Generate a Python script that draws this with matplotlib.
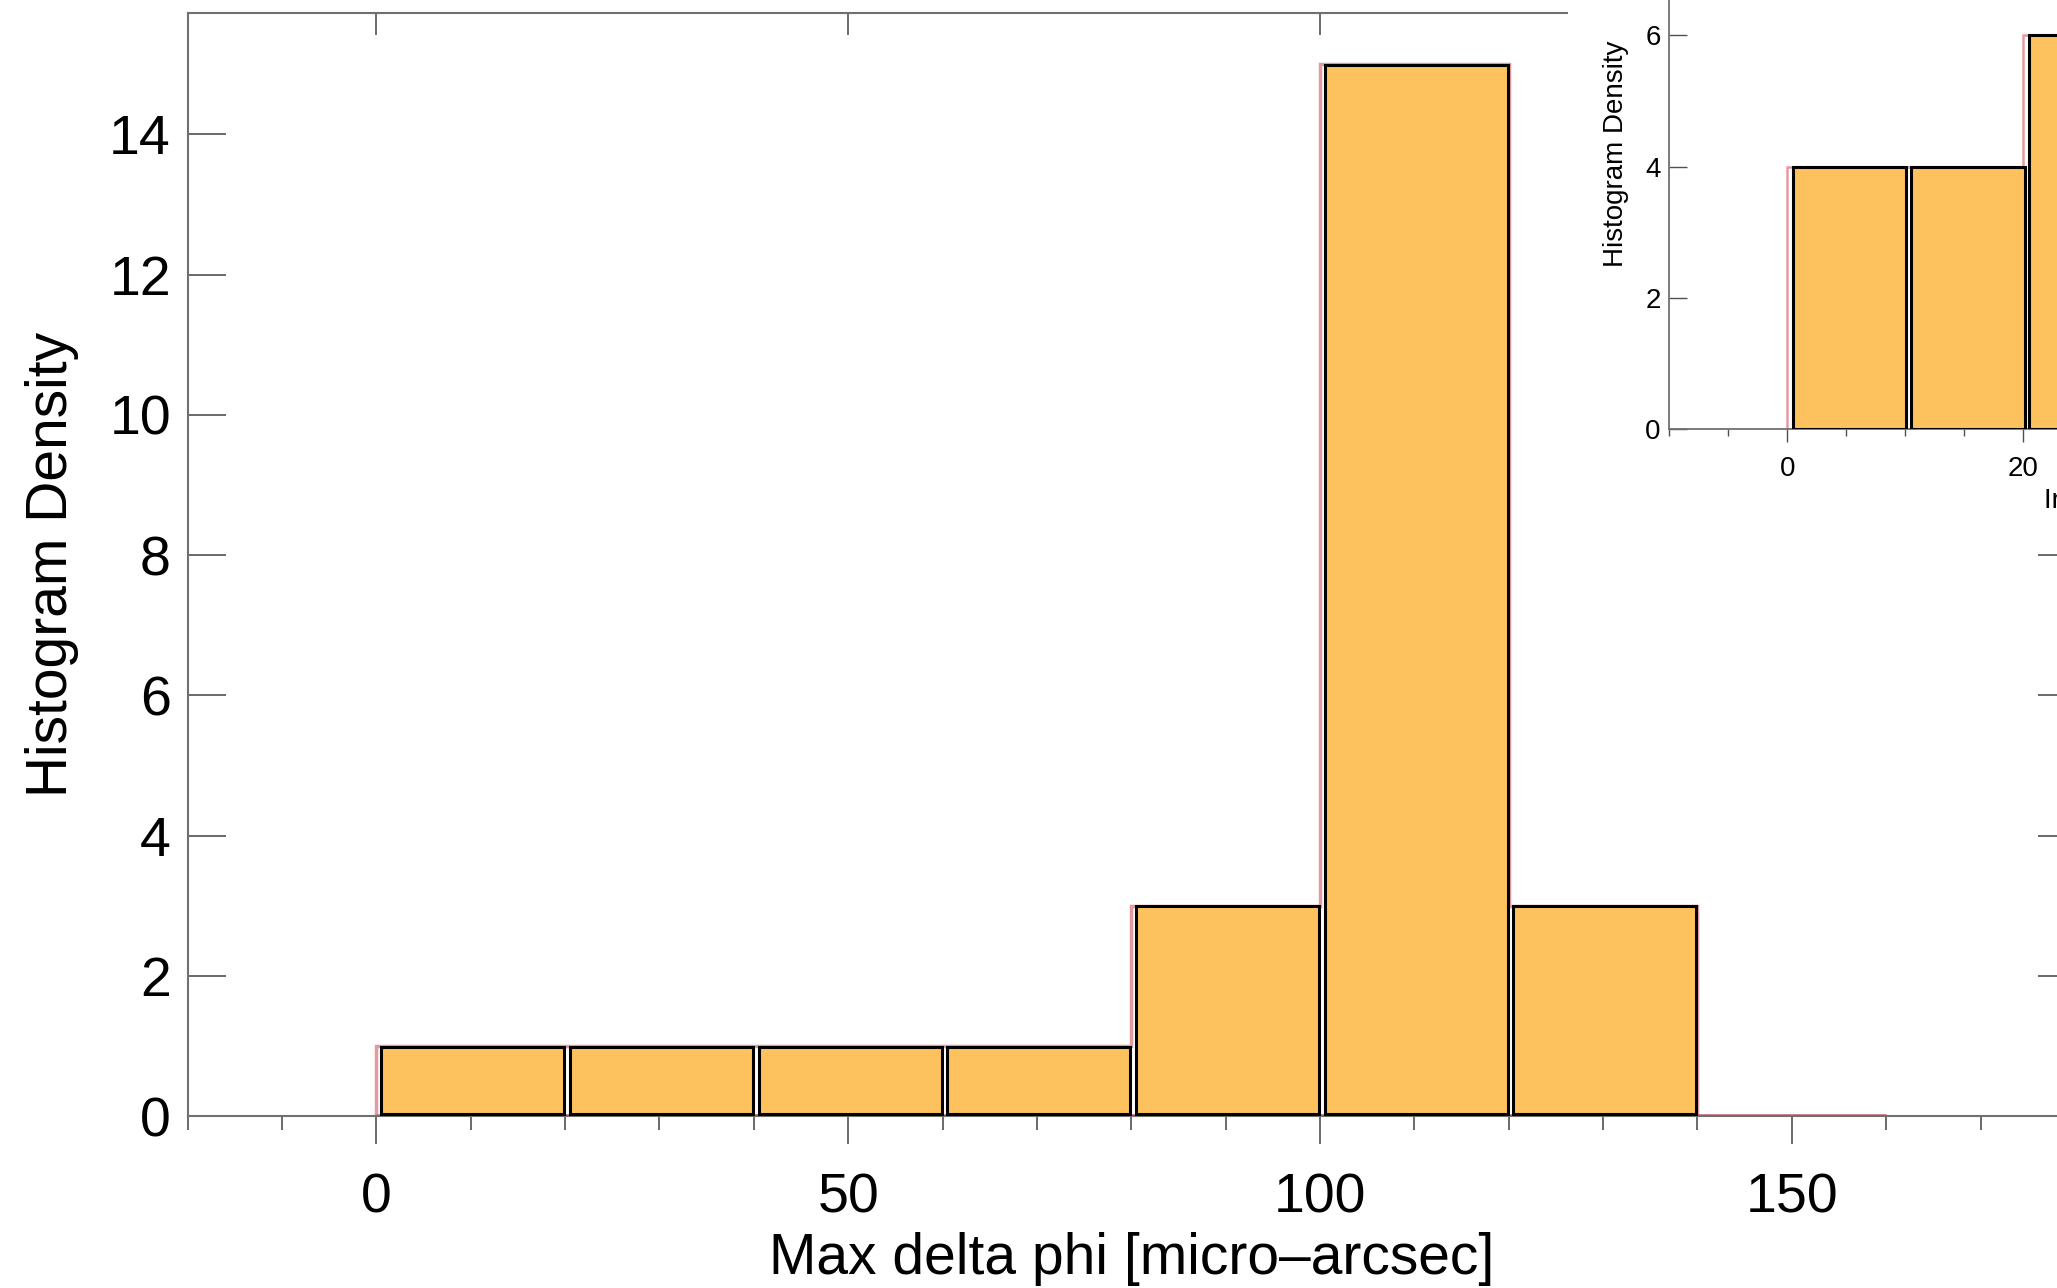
import numpy as np
import matplotlib
matplotlib.use("Agg")
import matplotlib.pyplot as plt
from matplotlib.ticker import MultipleLocator
from matplotlib.patches import Rectangle

plt.rcParams['font.family'] = ['Liberation Sans', 'DejaVu Sans']

# main histogram
main_edges = np.array([0, 20, 40, 60, 80, 100, 120, 140, 160])
main_counts = np.array([1, 1, 1, 1, 3, 15, 3, 0])

# inset histogram (partly cut off by the figure edge)
inset_edges = np.array([0, 10, 20, 30])
inset_counts = np.array([4, 4, 6])

bar_color = '#FDC25E'
pink = '#E59AA0'
spine_col = '#707070'
tick_col = '#505050'

fig = plt.figure(figsize=(20.57, 12.88), dpi=100)

# main axes runs past the right edge of the figure on purpose
ax = fig.add_axes([0.0912, 0.1335, 0.9175, 0.8564])
ax.set_zorder(0)
ax.set_xlim(-20, 180)
ax.set_ylim(0, 15.73)

ax.stairs(main_counts, main_edges, color=pink, lw=2.5, zorder=2)
ax.hlines(0, main_edges[0], main_edges[-1], color='#C98088', lw=3.5, zorder=2)
nz = main_counts > 0
ax.bar(main_edges[:-1][nz] + 0.5, main_counts[nz] - 0.04, width=19.4,
       bottom=0.03, align='edge',
       color=bar_color, edgecolor='black', lw=2.2, zorder=3)

for s in ax.spines.values():
    s.set_color(spine_col)
    s.set_linewidth(1.5)

ax.xaxis.set_major_locator(MultipleLocator(50))
ax.xaxis.set_minor_locator(MultipleLocator(10))
ax.yaxis.set_major_locator(MultipleLocator(2))
ax.tick_params(axis='x', which='major', direction='out', length=20, width=1.2,
               color=tick_col, labelsize=40, pad=21)
ax.tick_params(axis='x', which='minor', direction='out', length=10, width=1.2,
               color=tick_col)
ax.tick_params(axis='y', which='major', direction='in', length=27, width=1.2,
               color=tick_col, labelsize=40, pad=12, right=True)
ax.set_xlabel('Max delta phi [micro\u2013arcsec]', fontsize=41, labelpad=5)
ax.set_ylabel('Histogram Density', fontsize=41, labelpad=22)

axt = ax.secondary_xaxis('top')
axt.xaxis.set_major_locator(MultipleLocator(50))
axt.tick_params(direction='in', length=16, width=1.2, color=tick_col,
                labeltop=False)
axt.spines['top'].set_visible(False)

# white backing behind the inset
fig.add_artist(Rectangle((0.7623, 0.5885), 0.3, 0.45, transform=fig.transFigure,
                         facecolor='white', edgecolor='none', zorder=1))

ins = fig.add_axes([0.8114, 0.6669, 0.4594, 0.4279])
ins.set_zorder(2)
ins.set_xlim(-10, 70)
ins.set_ylim(0, 8.4)
ins.stairs(inset_counts, inset_edges, color=pink, lw=1.8, zorder=2)
ins.bar(inset_edges[:-1] + 0.5, inset_counts, width=9.6, align='edge',
        color=bar_color, edgecolor='black', lw=2.2, zorder=3)
for s in ins.spines.values():
    s.set_color(spine_col)
    s.set_linewidth(1.3)
ins.xaxis.set_major_locator(MultipleLocator(20))
ins.xaxis.set_minor_locator(MultipleLocator(5))
ins.yaxis.set_major_locator(MultipleLocator(2))
ins.tick_params(axis='x', which='major', direction='out', length=9.5, width=1,
                color=tick_col, labelsize=20, pad=10)
ins.tick_params(axis='x', which='minor', direction='out', length=5, width=1,
                color=tick_col)
ins.tick_params(axis='y', which='major', direction='in', length=13, width=1,
                color=tick_col, labelsize=20, pad=6)
ins.set_xlabel('Inclination [deg]', fontsize=20, labelpad=4)
ins.set_ylabel('Histogram Density', fontsize=20, labelpad=12)

fig.savefig('out.png', dpi=100)
